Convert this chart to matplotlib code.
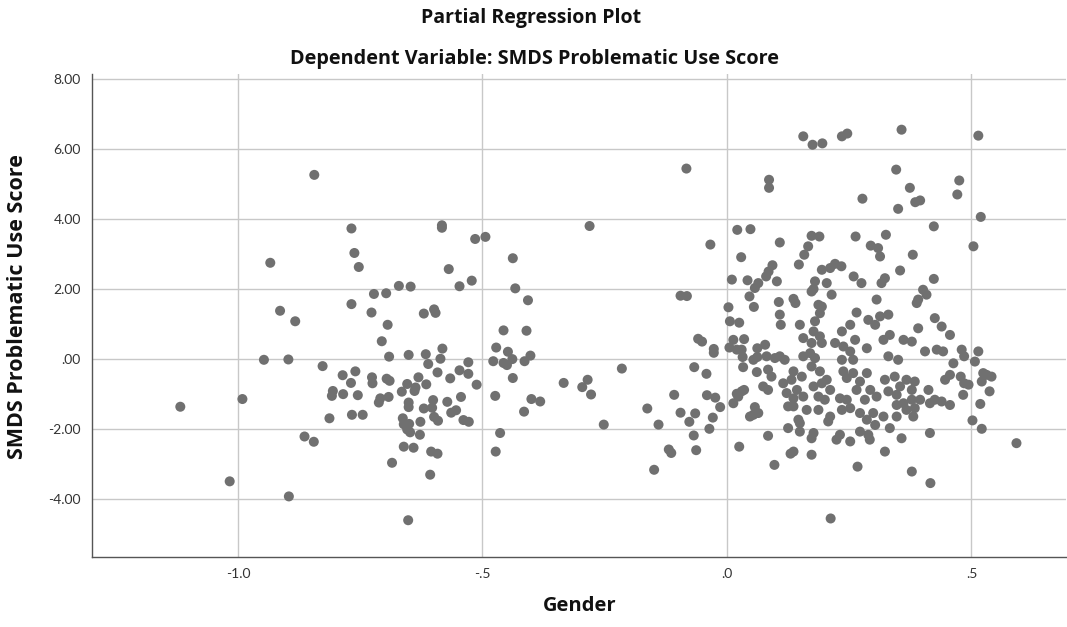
import matplotlib
matplotlib.use("Agg")
import matplotlib.pyplot as plt
import numpy as np
from matplotlib.ticker import FixedLocator, FixedFormatter

# ---- data (residuals): (gender_resid, smds_resid) ----
left_outer = [(-0.844,5.26),(-0.934,2.75),(-0.914,1.38),(-0.883,1.08),(-0.947,-0.02),(-0.897,-0.01),
    (-0.827,-0.20),(-0.806,-0.91),(-0.808,-1.05),(-0.991,-1.14),(-1.118,-1.36),(-0.813,-1.69),
    (-0.864,-2.21),(-0.845,-2.36),(-1.017,-3.49),(-0.896,-3.92)]

left_cluster = [(-0.768,3.73),(-0.762,3.03),(-0.753,2.63),(-0.583,3.82),(-0.583,3.75),(-0.515,3.43),
    (-0.494,3.49),(-0.438,2.88),(-0.569,2.57),(-0.671,2.09),(-0.647,2.07),(-0.547,2.08),(-0.522,2.24),
    (-0.722,1.86),(-0.697,1.88),(-0.768,1.57),(-0.727,1.33),(-0.620,1.30),(-0.599,1.42),(-0.596,1.32),
    (-0.694,0.98),(-0.433,2.02),(-0.457,0.82),(-0.706,0.51),(-0.472,0.33),(-0.448,0.21),(-0.582,0.30),
    (-0.691,0.07),(-0.651,0.12),(-0.616,0.14),(-0.611,-0.14),(-0.586,0.01),(-0.478,-0.06),(-0.457,-0.11),
    (-0.450,-0.17),(-0.438,-0.54),(-0.529,-0.09),(-0.529,-0.42),(-0.547,-0.32),(-0.592,-0.38),
    (-0.566,-0.55),(-0.512,-0.73),(-0.631,-0.52),(-0.615,-0.72),(-0.654,-0.71),(-0.637,-0.81),
    (-0.639,-0.91),(-0.665,-0.93),(-0.786,-0.46),(-0.760,-0.35),(-0.769,-0.68),(-0.726,-0.52),
    (-0.725,-0.69),(-0.696,-0.56),(-0.690,-0.62),(-0.785,-1.00),(-0.755,-1.03),(-0.709,-1.12),
    (-0.712,-1.24),(-0.692,-1.08),(-0.651,-1.24),(-0.651,-1.37),(-0.767,-1.59),(-0.745,-1.59),
    (-0.601,-1.17),(-0.620,-1.41),(-0.603,-1.39),(-0.572,-1.22),(-0.544,-1.08),(-0.564,-1.53),
    (-0.554,-1.46),(-0.599,-1.65),(-0.591,-1.76),(-0.539,-1.74),(-0.528,-1.79),(-0.474,-1.05),
    (-0.663,-1.69),(-0.661,-1.86),(-0.650,-1.85),(-0.654,-2.01),(-0.648,-2.09),(-0.627,-1.79),
    (-0.628,-2.16),(-0.464,-2.11),(-0.661,-2.50),(-0.641,-2.53),(-0.605,-2.64),(-0.592,-2.70),
    (-0.473,-2.64),(-0.685,-2.96),(-0.607,-3.30),(-0.652,-4.60)]

middle = [(-0.083,5.44),(-0.281,3.80),(-0.034,3.27),(-0.407,1.68),(-0.095,1.81),(-0.082,1.80),
    (-0.410,0.81),(-0.439,0.00),(-0.414,-0.06),(-0.402,0.10),(-0.400,-1.14),(-0.382,-1.21),
    (-0.415,-1.50),(-0.334,-0.68),(-0.285,-0.59),(-0.296,-0.80),(-0.278,-1.01),(-0.215,-0.27),
    (-0.252,-1.87),(-0.163,-1.41),(-0.140,-1.87),(-0.149,-3.16),(-0.119,-2.58),(-0.114,-2.68),
    (-0.108,-1.02),(-0.095,-1.53),(-0.077,-1.79),(-0.065,-1.55),(-0.068,-2.18),(-0.063,-2.60),
    (-0.067,-0.23),(-0.042,-0.42),(-0.059,0.58),(-0.051,0.50),(-0.027,0.29),(-0.027,0.18),
    (-0.041,-1.03),(-0.024,-1.10),(-0.014,-1.37),(-0.029,-1.67),(-0.036,-1.99)]

right_a = [(0.021,3.69),(0.048,3.71),(0.029,2.91),(0.010,2.27),(0.042,2.25),(0.064,2.17),(0.057,2.03),
    (0.046,1.79),(0.055,1.49),(0.003,1.48),(0.006,1.08),(0.025,1.04),(0.035,0.57),(0.013,0.55),
    (0.005,0.33),(0.020,0.27),(0.030,0.27),(0.032,0.06),(0.033,-0.23),(0.054,-0.02),(0.062,0.06),
    (0.062,0.31),(0.061,-0.37),(0.020,-0.99),(0.030,-0.92),(0.035,-0.88),
    (0.013,-1.26),(0.023,-1.07),(0.057,-1.37),(0.047,-1.64),(0.054,-1.59),(0.064,-1.54),(0.025,-2.50)]

right_upper = [(0.156,6.36),(0.175,6.12),(0.195,6.16),(0.086,5.12),(0.086,4.89),(0.108,3.33),(0.173,3.52),
    (0.189,3.50),(0.166,3.22),(0.158,2.98),(0.147,2.70),(0.093,2.68),(0.085,2.50),(0.080,2.36),
    (0.102,2.22),(0.180,2.22),(0.177,2.00),(0.173,1.93),(0.106,1.63),(0.136,1.72),(0.140,1.60),
    (0.187,1.55),(0.097,-3.02),
    (0.235,6.36),(0.246,6.44),(0.277,4.58),(0.263,3.50),(0.294,3.24),(0.309,3.17),(0.313,2.93),
    (0.194,2.55),(0.211,2.60),(0.221,2.72),(0.234,2.65),(0.204,2.17),(0.259,2.36),(0.275,2.17),
    (0.214,1.84),(0.306,1.70),(0.194,1.50),(0.267,-3.07),(0.212,-4.55),
    (0.357,6.55),(0.346,5.41),(0.374,4.89),(0.385,4.48),(0.395,4.53),(0.350,4.29),(0.423,3.79),
    (0.325,3.55),(0.380,2.98),(0.354,2.53),(0.323,2.31),(0.316,2.17),(0.423,2.29),(0.401,1.98),
    (0.408,1.84),(0.391,1.70),(0.388,1.60),(0.378,-3.21),(0.416,-3.54)]

dense_core = [(0.108,1.27),(0.110,0.98),(0.149,0.98),(0.190,1.31),(0.180,1.08),(0.265,1.33),(0.289,1.12),
    (0.303,0.98),(0.313,1.22),(0.330,1.27),(0.333,0.69),(0.320,0.55),(0.361,0.55),(0.378,0.50),
    (0.391,0.88),(0.425,1.17),(0.439,0.93),(0.456,0.69),
    (0.156,0.60),(0.177,0.79),(0.173,0.46),(0.190,0.65),(0.194,0.46),(0.170,0.17),(0.156,0.08),
    (0.180,0.03),(0.221,0.46),(0.235,0.79),(0.238,0.36),(0.252,0.98),(0.262,0.55),(0.252,0.22),
    (0.286,0.31),(0.078,0.41),(0.081,0.08),(0.098,0.03),(0.108,0.08),(0.118,-0.02),(0.235,-0.02),
    (0.258,-0.02),(0.330,0.08),(0.350,-0.02),(0.405,0.22),(0.429,0.27),(0.442,0.22),(0.463,-0.12),
    (0.084,-0.30),(0.091,-0.50),(0.074,-0.78),(0.084,-0.88),(0.115,-0.69),(0.132,-0.59),(0.136,-0.35),
    (0.153,-0.50),(0.143,-0.88),(0.122,-0.97),(0.136,-1.12),(0.156,-1.07),(0.173,-0.21),(0.190,-0.35),
    (0.177,-0.78),(0.194,-0.69),(0.204,-0.59),(0.211,-0.88),(0.187,-1.07),(0.200,-1.16),(0.125,-1.35),
    (0.136,-1.35),(0.163,-1.45),(0.187,-1.45),(0.146,-1.73),(0.149,-1.83),(0.211,-1.64),(0.207,-1.78),
    (0.238,-0.35),(0.245,-0.54),(0.258,-0.40),(0.231,-1.12),(0.245,-1.16),(0.265,-0.88),(0.272,-0.64),
    (0.286,-0.40),(0.282,-1.16),(0.293,-0.88),(0.306,-1.07),(0.235,-1.45),(0.252,-1.40),(0.272,-1.54),
    (0.286,-1.73),(0.299,-1.54),(0.320,-1.64),(0.303,-1.88),(0.323,-0.59),(0.343,-0.50),(0.354,-0.78),
    (0.367,-0.59),(0.384,-0.64),(0.378,-0.88),(0.330,-0.92),(0.347,-1.02),(0.347,-1.31),(0.361,-1.26),
    (0.378,-1.16),(0.395,-1.16),(0.367,-1.45),(0.384,-1.40),(0.347,-1.64),(0.381,-1.64),(0.412,-0.88),
    (0.425,-1.16),(0.415,-1.26),(0.439,-1.21),(0.456,-1.31),(0.446,-0.59),(0.456,-0.45),
    (0.084,-2.19),(0.125,-1.97),(0.149,-2.07),(0.177,-2.11),(0.173,-2.26),(0.136,-2.64),(0.130,-2.70),
    (0.173,-2.73),(0.231,-2.16),(0.224,-2.30),(0.252,-2.35),(0.272,-2.07),(0.289,-2.16),(0.292,-2.30),
    (0.333,-1.97),(0.357,-2.26),(0.415,-2.11),(0.323,-2.64)]

right_edge = [(0.514,6.38),(0.475,5.10),(0.471,4.70),(0.519,4.06),(0.504,3.22),
    (0.480,0.27),(0.485,0.08),(0.514,0.22),(0.507,-0.07),(0.478,-0.50),
    (0.485,-0.69),(0.494,-0.73),(0.483,-1.02),(0.531,-0.45),
    (0.541,-0.50),(0.521,-0.64),(0.524,-0.40),(0.537,-0.92),(0.518,-1.28),(0.502,-1.75),(0.521,-1.99),
    (0.592,-2.40)]

x_ticks = [-1.0, -0.5, 0.0, 0.5]
x_tick_labels = ["-1.0", "-.5", ".0", ".5"]
y_ticks = [-4, -2, 0, 2, 4, 6, 8]
y_tick_labels = ["-4.00", "-2.00", ".00", "2.00", "4.00", "6.00", "8.00"]

title_1 = "Partial Regression Plot"
title_2 = "Dependent Variable: SMDS Problematic Use Score"
x_label = "Gender"
y_label = "SMDS Problematic Use Score"

# ---- figure ----
plt.rcParams['font.family'] = ['Lato', 'DejaVu Sans']
fig = plt.figure(figsize=(10.67, 6.27), dpi=100)
ax = fig.add_axes([92/1067, 1-557/627, (1066-92)/1067, (557-74)/627])

groups = [left_outer, left_cluster, middle, right_a, right_upper, dense_core, right_edge]
pts = np.array([p for g in groups for p in g])
ax.scatter(pts[:, 0], pts[:, 1], s=52, color='#707070', edgecolors='none', zorder=3)

ax.set_xlim(-1.2986, 0.6933)
ax.set_ylim(-5.65, 8.14)
ax.xaxis.set_major_locator(FixedLocator(x_ticks))
ax.xaxis.set_major_formatter(FixedFormatter(x_tick_labels))
ax.yaxis.set_major_locator(FixedLocator(y_ticks))
ax.yaxis.set_major_formatter(FixedFormatter(y_tick_labels))
ax.grid(True, color='#c8c8c8', linewidth=1.0, zorder=0)
ax.set_axisbelow(True)
for s in ['top', 'right']:
    ax.spines[s].set_visible(False)
for s in ['left', 'bottom']:
    ax.spines[s].set_color('#555555')
    ax.spines[s].set_linewidth(1.0)
ax.tick_params(length=0, labelsize=10, colors='#333333', pad=8)

tfont = ['Open Sans', 'DejaVu Sans']
fig.text(531/1067, 1-18/627, title_1, ha='center', va='center', fontsize=14, fontweight='bold',
         color='#111111', family=tfont)
fig.text(534/1067, 1-59/627, title_2, ha='center', va='center', fontsize=14.3, fontweight='bold',
         color='#111111', family=tfont)
fig.text(580/1067, 1-606/627, x_label, ha='center', va='center', fontsize=14.5, fontweight='bold',
         color='#111111', family=tfont)
fig.text(18/1067, 1-307/627, y_label, ha='center', va='center', rotation=90, fontsize=15.5,
         fontweight='bold', color='#111111', family=tfont)

fig.savefig("out.png", dpi=100, facecolor='white')
